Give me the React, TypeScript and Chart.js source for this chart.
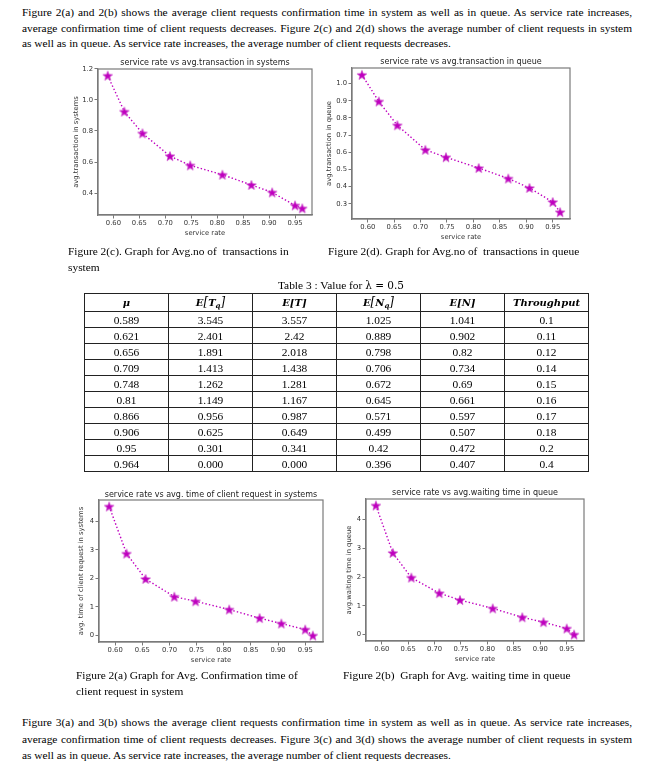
import React, { useEffect, useRef } from "react";
import { Chart, registerables } from "chart.js";

Chart.register(...registerables);

// ---------- data ----------
const serviceRate = [0.589, 0.621, 0.656, 0.709, 0.748, 0.81, 0.866, 0.906, 0.95, 0.964];
const avgTransSystem = [1.157, 0.925, 0.785, 0.638, 0.578, 0.518, 0.452, 0.404, 0.32, 0.301];
const avgTransQueue = [1.051, 0.896, 0.757, 0.614, 0.571, 0.508, 0.447, 0.392, 0.31, 0.251];
const avgTimeSystem = [4.52, 2.87, 1.98, 1.36, 1.2, 0.91, 0.61, 0.42, 0.21, 0.0];
const avgWaitQueue = [4.49, 2.84, 1.98, 1.44, 1.2, 0.91, 0.6, 0.43, 0.21, 0.0];

const xTicks = [0.6, 0.65, 0.7, 0.75, 0.8, 0.85, 0.9, 0.95];
const yTicksSystem = [0.4, 0.6, 0.8, 1.0, 1.2];
const yTicksQueue = [0.3, 0.4, 0.5, 0.6, 0.7, 0.8, 0.9, 1.0];
const yTicksTime = [0, 1, 2, 3, 4];

const tableMu = ["0.589", "0.621", "0.656", "0.709", "0.748", "0.81", "0.866", "0.906", "0.95", "0.964"];
const tableETq = ["3.545", "2.401", "1.891", "1.413", "1.262", "1.149", "0.956", "0.625", "0.301", "0.000"];
const tableET = ["3.557", "2.42", "2.018", "1.438", "1.281", "1.167", "0.987", "0.649", "0.341", "0.000"];
const tableENq = ["1.025", "0.889", "0.798", "0.706", "0.672", "0.645", "0.571", "0.499", "0.42", "0.396"];
const tableEN = ["1.041", "0.902", "0.82", "0.734", "0.69", "0.661", "0.597", "0.507", "0.472", "0.407"];
const tableThroughput = ["0.1", "0.11", "0.12", "0.14", "0.15", "0.16", "0.17", "0.18", "0.2", "0.4"];

const topParagraph = [
  "Figure 2(a) and 2(b) shows the average client requests confirmation time in system as well as in queue. As service rate increases,",
  "average confirmation time of client requests decreases. Figure 2(c) and 2(d) shows the average number of client requests in system",
  "as well as in queue. As service rate increases, the average number of client requests decreases.",
];
const bottomParagraph = [
  "Figure 3(a) and 3(b) shows the average client requests confirmation time in system as well as in queue. As service rate increases,",
  "average confirmation time of client requests decreases. Figure 3(c) and 3(d) shows the average number of client requests in system",
  "as well as in queue. As service rate increases, the average number of client requests decreases.",
];

// ---------- styles ----------
const SERIF = "'Liberation Serif', 'Times New Roman', serif";
const SANS = "'DejaVu Sans', sans-serif";
const MAGENTA = "#bf00bf";
const TEXT_GRAY = "#333333";
const FRAME = "#7a7a7a";

function makeStar(): HTMLCanvasElement {
  const c = document.createElement("canvas");
  const s = 12;
  c.width = s;
  c.height = s;
  const ctx = c.getContext("2d")!;
  const cx = s / 2, cy = s / 2 + 0.5, ro = 5.0, ri = 2.1;
  ctx.beginPath();
  for (let i = 0; i < 10; i++) {
    const r = i % 2 === 0 ? ro : ri;
    const a = -Math.PI / 2 + (i * Math.PI) / 5;
    const px = cx + r * Math.cos(a);
    const py = cy + r * Math.sin(a);
    if (i === 0) ctx.moveTo(px, py);
    else ctx.lineTo(px, py);
  }
  ctx.closePath();
  ctx.fillStyle = MAGENTA;
  ctx.fill();
  ctx.strokeStyle = "#c840c8";
  ctx.lineWidth = 0.7;
  ctx.stroke();
  return c;
}

type PlotProps = {
  l: number; t: number; r: number; b: number;
  title: string; xLabel: string; yLabel: string;
  values: number[]; yTicks: number[]; yDec: number; yLabelOffset: number;
  titleOffset: number;
};

const PL = 50, PT = 16, PR = 12, PB = 32;

function MplChart(p: PlotProps) {
  const ref = useRef<HTMLCanvasElement | null>(null);
  const W = p.r - p.l + PL + PR;
  const H = p.b - p.t + PT + PB;
  useEffect(() => {
    if (!ref.current) return;
    const xmn = Math.min(...serviceRate), xmx = Math.max(...serviceRate);
    const xpad = (xmx - xmn) * 0.05;
    const ymn = Math.min(...p.values), ymx = Math.max(...p.values);
    const ypad = (ymx - ymn) * 0.05;
    const star = makeStar();
    const tickFont = { family: SANS, size: 6.8 };
    const decor = {
      id: "decor",
      afterDraw(chart: any) {
        const { ctx, chartArea: a } = chart;
        ctx.save();
        ctx.strokeStyle = FRAME;
        ctx.lineWidth = 1.2;
        ctx.strokeRect(a.left, a.top, a.right - a.left, a.bottom - a.top);
        ctx.fillStyle = "#222";
        ctx.textAlign = "center";
        ctx.textBaseline = "middle";
        ctx.font = `8px ${SANS}`;
        ctx.fillText(p.title, (a.left + a.right) / 2, a.top - p.titleOffset);
        ctx.fillStyle = TEXT_GRAY;
        ctx.font = `6.8px ${SANS}`;
        ctx.fillText(p.xLabel, (a.left + a.right) / 2, a.bottom + 18);
        ctx.translate(a.left - p.yLabelOffset, (a.top + a.bottom) / 2);
        ctx.rotate(-Math.PI / 2);
        ctx.fillText(p.yLabel, 0, 0);
        ctx.restore();
      },
    };
    const chart = new Chart(ref.current, {
      type: "line",
      data: {
        datasets: [
          {
            data: serviceRate.map((x, i) => ({ x, y: p.values[i] })),
            borderColor: MAGENTA,
            borderWidth: 1.4,
            borderDash: [1.4, 2.2],
            pointStyle: star as any,
            pointRadius: 5,
            backgroundColor: MAGENTA,
            tension: 0,
            fill: false,
          },
        ],
      },
      options: {
        animation: false,
        responsive: false,
        maintainAspectRatio: false,
        events: [],
        layout: { padding: { top: PT, right: PR, left: 0, bottom: 0 } },
        plugins: { legend: { display: false }, tooltip: { enabled: false }, title: { display: false } },
        scales: {
          x: {
            type: "linear",
            min: xmn - xpad,
            max: xmx + xpad,
            afterFit: (s: any) => { s.height = PB; },
            afterBuildTicks: (s: any) => { s.ticks = xTicks.map((v) => ({ value: v })); },
            ticks: {
              callback: (v: any) => Number(v).toFixed(2),
              font: tickFont,
              color: TEXT_GRAY,
              padding: 1,
              maxRotation: 0,
              autoSkip: false,
            },
            grid: { drawOnChartArea: false, drawTicks: true, tickLength: 3.5, color: "#555", lineWidth: 0.8 },
            border: { display: true, color: FRAME, width: 1.2 },
          },
          y: {
            type: "linear",
            min: ymn - ypad,
            max: ymx + ypad,
            afterFit: (s: any) => { s.width = PL; },
            afterBuildTicks: (s: any) => { s.ticks = p.yTicks.map((v) => ({ value: v })); },
            ticks: {
              callback: (v: any) => Number(v).toFixed(p.yDec),
              font: tickFont,
              color: TEXT_GRAY,
              padding: 1.5,
              autoSkip: false,
            },
            grid: { drawOnChartArea: false, drawTicks: true, tickLength: 3.5, color: "#555", lineWidth: 0.8 },
            border: { display: true, color: FRAME, width: 1.2 },
          },
        },
      },
      plugins: [decor],
    } as any);
    return () => chart.destroy();
  }, []);
  return (
    <canvas
      ref={ref}
      width={W}
      height={H}
      style={{ position: "absolute", left: p.l - PL, top: p.t - PT, width: W, height: H }}
    />
  );
}

function TextLine({ text, top, last }: { text: string; top: number; last?: boolean }) {
  return (
    <div
      style={{
        position: "absolute",
        left: 22,
        top: top - 8,
        width: 610,
        height: 16,
        lineHeight: "16px",
        fontFamily: SERIF,
        fontSize: 11.4,
        color: "#000",
        whiteSpace: "nowrap",
        textAlign: last ? "left" : "justify",
        textAlignLast: last ? "left" : "justify",
      } as any}
    >
      {text}
    </div>
  );
}

function Caption({ text, left, top }: { text: string; left: number; top: number }) {
  return (
    <div
      style={{
        position: "absolute",
        left,
        top: top - 8,
        height: 16,
        lineHeight: "16px",
        fontFamily: SERIF,
        fontSize: 11.4,
        color: "#000",
        whiteSpace: "pre",
      }}
    >
      {text}
    </div>
  );
}

const headStyle: React.CSSProperties = {
  fontFamily: "'DejaVu Serif', serif",
  fontWeight: "bold",
  fontStyle: "italic",
  fontSize: 10,
};
const bracket: React.CSSProperties = { fontSize: 12, fontWeight: "normal", lineHeight: 0 };
const subq: React.CSSProperties = { fontSize: 7, lineHeight: 0, verticalAlign: "-2px" };

function DataTable() {
  const cols = [tableMu, tableETq, tableET, tableENq, tableEN, tableThroughput];
  const headers = [
    <span style={headStyle}>μ</span>,
    <span style={headStyle}>E<span style={bracket}>[</span>T<span style={subq}>q</span><span style={bracket}>]</span></span>,
    <span style={headStyle}>E[T]</span>,
    <span style={headStyle}>E<span style={bracket}>[</span>N<span style={subq}>q</span><span style={bracket}>]</span></span>,
    <span style={headStyle}>E[N]</span>,
    <span style={headStyle}>Throughput</span>,
  ];
  const cell: React.CSSProperties = {
    border: "1px solid #222",
    padding: 0,
    textAlign: "center",
    width: 83,
    overflow: "hidden",
  };
  return (
    <table
      style={{
        position: "absolute",
        left: 84,
        top: 293,
        width: 500,
        borderCollapse: "collapse",
        fontFamily: SERIF,
        fontSize: 11.4,
        lineHeight: "14px",
        color: "#000",
        tableLayout: "fixed",
      }}
    >
      <tbody>
        <tr style={{ height: 18 }}>
          {headers.map((h, i) => (
            <td key={i} style={{ ...cell, height: 17, lineHeight: "15px" }}>{h}</td>
          ))}
        </tr>
        {tableMu.map((_, r) => (
          <tr key={r} style={{ height: 16 }}>
            {cols.map((c, i) => (
              <td key={i} style={{ ...cell, height: 15 }}>{c[r]}</td>
            ))}
          </tr>
        ))}
      </tbody>
    </table>
  );
}

export default function App() {
  return (
    <div style={{ position: "absolute", left: 0, top: 0, width: 659, height: 772, background: "#fff", overflow: "hidden" }}>
      {topParagraph.map((t, i) => (
        <TextLine key={"tp" + i} text={t} top={12 + i * 15.5} last={i === topParagraph.length - 1} />
      ))}

      <MplChart l={98} t={69} r={312} b={215}
        title="service rate vs avg.transaction in systems" xLabel="service rate" yLabel="avg.transaction in systems"
        values={avgTransSystem} yTicks={yTicksSystem} yDec={1} yLabelOffset={22} titleOffset={6.5} />
      <MplChart l={352} t={68} r={570} b={219}
        title="service rate vs avg.transaction in queue" xLabel="service rate" yLabel="avg.transaction in queue"
        values={avgTransQueue} yTicks={yTicksQueue} yDec={1} yLabelOffset={23} titleOffset={6} />

      <Caption text="Figure 2(c). Graph for Avg.no of  transactions in" left={68} top={251} />
      <Caption text="system" left={68} top={267} />
      <Caption text="Figure 2(d). Graph for Avg.no of  transactions in queue" left={328} top={251} />

      <div style={{ position: "absolute", left: 184, top: 277, width: 314, textAlign: "center", fontFamily: SERIF, fontSize: 11.4, lineHeight: "16px" }}>
        Table 3 : Value for <span style={{ fontFamily: "'DejaVu Serif', serif", fontSize: 10.5 }}>λ = 0.5</span>
      </div>
      <DataTable />

      <MplChart l={99} t={500} r={323} b={642}
        title="service rate vs avg. time of client request in systems" xLabel="service rate" yLabel="avg. time of client request in systems"
        values={avgTimeSystem} yTicks={yTicksTime} yDec={0} yLabelOffset={18} titleOffset={5} />
      <MplChart l={366} t={499} r={584} b={641}
        title="service rate vs avg.waiting time in queue" xLabel="service rate" yLabel="avg.waiting time in queue"
        values={avgWaitQueue} yTicks={yTicksTime} yDec={0} yLabelOffset={17} titleOffset={6} />

      <Caption text="Figure 2(a) Graph for Avg. Confirmation time of" left={76} top={675} />
      <Caption text="client request in system" left={76} top={691} />
      <Caption text="Figure 2(b)  Graph for Avg. waiting time in queue" left={343} top={675} />

      {bottomParagraph.map((t, i) => (
        <TextLine key={"bp" + i} text={t} top={722 + i * 16.5} last={i === bottomParagraph.length - 1} />
      ))}
    </div>
  );
}
